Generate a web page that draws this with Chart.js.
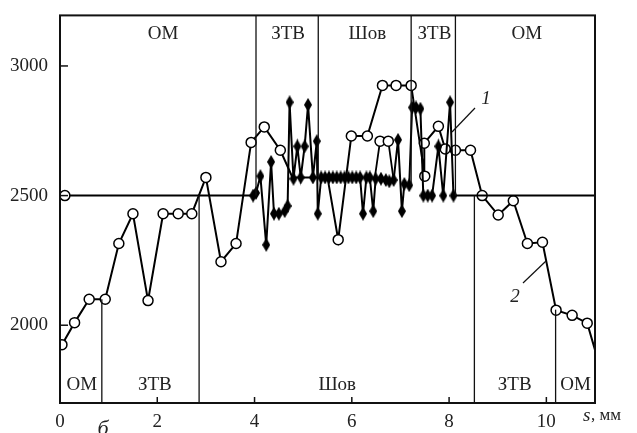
<!DOCTYPE html>
<html>
<head>
<meta charset="utf-8">
<script src="https://cdn.jsdelivr.net/npm/chart.js@4/dist/chart.umd.min.js"></script>
<style>
  html, body { margin: 0; padding: 0; background: #fff; }
  #wrap { width: 637px; height: 433px; }
</style>
</head>
<body>
<div id="wrap"><canvas id="myChart"></canvas></div>
<script>
// curve 1 (black diamonds)
const s1X = [0.1, 3.97, 4.03, 4.12, 4.24, 4.34, 4.40, 4.50, 4.62, 4.68, 4.72, 4.80, 4.88, 4.95, 5.03, 5.10, 5.20, 5.28, 5.30, 5.37,
             5.45, 5.53, 5.61, 5.69, 5.77, 5.85, 5.93, 6.01, 6.09, 6.17, 6.23, 6.30, 6.37, 6.44, 6.49, 6.60, 6.70, 6.77, 6.86,
             6.95, 7.03, 7.08, 7.18, 7.24, 7.32, 7.41, 7.47, 7.56, 7.65, 7.78, 7.88, 8.02, 8.09, 11.0];
const s1Y = [2500, 2500, 2510, 2575, 2310, 2630, 2430, 2430, 2440, 2460, 2860, 2565, 2690, 2570, 2690, 2850, 2570, 2710, 2430, 2570,
             2570, 2570, 2570, 2570, 2570, 2570, 2570, 2570, 2570, 2570, 2430, 2570, 2570, 2440, 2565, 2565, 2560, 2555, 2560,
             2715, 2440, 2545, 2540, 2840, 2840, 2835, 2500, 2500, 2500, 2690, 2500, 2860, 2500, 2500];

// curve 2 (open circles); points listed in s2Hidden are hidden inside curve 1
const s2X = [0.04, 0.3, 0.6, 0.93, 1.21, 1.5, 1.81, 2.12, 2.43, 2.71, 3.0, 3.31, 3.62, 3.93, 4.2, 4.53, 4.78, 5.2, 5.5,
             5.72, 5.99, 6.32, 6.63, 6.91, 7.22, 7.5, 7.49, 7.78, 7.92, 8.13, 8.44, 8.68, 9.01, 9.32, 9.61, 9.92,
             10.2, 10.53, 10.84, 11.0];
const s2Y = [1925, 2010, 2100, 2100, 2315, 2430, 2095, 2430, 2430, 2430, 2570, 2245, 2315, 2705, 2765, 2675, 2570, 2570, 2570,
             2330, 2730, 2730, 2925, 2925, 2925, 2575, 2702, 2767, 2680, 2675, 2675, 2500, 2425, 2480, 2315, 2320,
             2058, 2038, 2008, 1905];
const s2Hidden = [16, 17, 18, 39];

// small detour of curve 2 near s = 6.6
const s2bX = [6.47, 6.58, 6.75, 6.86];
const s2bY = [2565, 2710, 2710, 2560];

const xTickVals = [0, 2, 4, 6, 8, 10];
const yTickVals = [2000, 2500, 3000];

// zone borders: [s, end value]
const topBorders = [[4.03, 2500], [5.31, 2570], [7.22, 2540], [8.13, 2500]];
const bottomBorders = [[0.86, 2100], [2.86, 2500], [8.52, 2500], [10.19, 2060]];
const topZones = [['ОМ', 2.12], ['ЗТВ', 4.69], ['Шов', 6.32], ['ЗТВ', 7.7], ['ОМ', 9.6]];
const bottomZones = [['ОМ', 0.45], ['ЗТВ', 1.95], ['Шов', 5.7], ['ЗТВ', 9.35], ['ОМ', 10.6]];

const serif = "'Liberation Serif', 'DejaVu Serif', serif";

// elongated diamond marker
const diamond = document.createElement('canvas');
diamond.width = 8; diamond.height = 14;
(function () {
    const c = diamond.getContext('2d');
    c.fillStyle = '#000';
    c.beginPath();
    c.moveTo(4, 0); c.lineTo(8, 7); c.lineTo(4, 14); c.lineTo(0, 7);
    c.closePath(); c.fill();
})();

const pts = (xs, ys) => xs.map((x, i) => ({ x: x, y: ys[i] }));

const decor = {
    id: 'decor',
    afterDatasetsDraw(chart) {
        const c = chart.ctx, a = chart.chartArea;
        const xs = chart.scales.x, ys = chart.scales.y;
        c.save();
        c.strokeStyle = '#111';
        c.lineWidth = 1.3;
        topBorders.forEach(b => {
            const px = xs.getPixelForValue(b[0]);
            c.beginPath(); c.moveTo(px, a.top); c.lineTo(px, ys.getPixelForValue(b[1])); c.stroke();
        });
        bottomBorders.forEach(b => {
            const px = xs.getPixelForValue(b[0]);
            c.beginPath(); c.moveTo(px, a.bottom); c.lineTo(px, ys.getPixelForValue(b[1])); c.stroke();
        });
        // frame
        c.lineWidth = 2;
        c.strokeRect(a.left, a.top, a.right - a.left, a.bottom - a.top);
        // inside ticks
        c.lineWidth = 1.5;
        xTickVals.forEach(v => {
            const px = xs.getPixelForValue(v);
            c.beginPath(); c.moveTo(px, a.bottom); c.lineTo(px, a.bottom - 6); c.stroke();
        });
        yTickVals.forEach(v => {
            const py = ys.getPixelForValue(v);
            c.beginPath(); c.moveTo(a.left, py); c.lineTo(a.left + 8, py); c.stroke();
        });
        // zone names
        c.fillStyle = '#222';
        c.font = '19px ' + serif;
        c.textAlign = 'center';
        c.textBaseline = 'middle';
        topZones.forEach(z => c.fillText(z[0], xs.getPixelForValue(z[1]), a.top + 19));
        bottomZones.forEach(z => c.fillText(z[0], xs.getPixelForValue(z[1]), a.bottom - 18));
        // curve numbers
        c.lineWidth = 1.2;
        c.beginPath(); c.moveTo(452, 132); c.lineTo(475, 108); c.stroke();
        c.beginPath(); c.moveTo(523, 283); c.lineTo(546, 261); c.stroke();
        c.font = 'italic 19px ' + serif;
        c.fillText('1', 486, 99);
        c.fillText('2', 515, 297);
        c.font = 'italic 22px ' + serif;
        c.fillText('б', 103, 429);
        // axis name
        c.textAlign = 'left';
        c.font = 'italic 19px ' + serif;
        c.fillText('s', 583, 416);
        c.font = '17px ' + serif;
        c.fillText(', мм', 591, 416);
        c.restore();
    }
};

const ctx = document.getElementById('myChart');

const chart = new Chart(ctx, {
    type: 'scatter',
    data: {
        datasets: [
            {
                label: '1',
                data: pts(s1X, s1Y),
                showLine: true,
                borderColor: '#000',
                borderWidth: 2,
                tension: 0,
                pointStyle: c => (c.dataIndex === 0 || c.dataIndex === s1X.length - 1) ? 'circle' : diamond,
                pointRadius: c => c.dataIndex === 0 ? 5 : (c.dataIndex === s1X.length - 1 ? 0 : 3),
                pointBackgroundColor: '#fff',
                pointBorderColor: '#000',
                pointBorderWidth: 1.5
            },
            {
                label: '2',
                data: pts(s2X, s2Y),
                showLine: true,
                borderColor: '#000',
                borderWidth: 2,
                tension: 0,
                pointStyle: 'circle',
                pointRadius: c => s2Hidden.includes(c.dataIndex) ? 0 : 5,
                pointBackgroundColor: '#fff',
                pointBorderColor: '#000',
                pointBorderWidth: 1.5
            },
            {
                label: '2b',
                data: pts(s2bX, s2bY),
                showLine: true,
                borderColor: '#000',
                borderWidth: 1.8,
                tension: 0,
                pointStyle: 'circle',
                pointRadius: c => (c.dataIndex === 0 || c.dataIndex === s2bX.length - 1) ? 0 : 5,
                pointBackgroundColor: '#fff',
                pointBorderColor: '#000',
                pointBorderWidth: 1.5
            }
        ]
    },
    options: {
        responsive: true,
        maintainAspectRatio: false,
        animation: false,
        layout: { padding: { top: 12, right: 42, left: 0, bottom: 0 } },
        plugins: {
            legend: { display: false },
            tooltip: { enabled: false }
        },
        scales: {
            x: {
                type: 'linear',
                min: 0,
                max: 11,
                afterBuildTicks: s => { s.ticks = xTickVals.map(v => ({ value: v })); },
                afterFit: s => { s.height = 30; },
                grid: { display: false },
                border: { display: false },
                ticks: { color: '#222', font: { family: serif, size: 19 }, padding: 0, callback: v => String(v) }
            },
            y: {
                min: 1700,
                max: 3195,
                afterBuildTicks: s => { s.ticks = yTickVals.map(v => ({ value: v })); },
                afterFit: s => { s.width = 60; },
                grid: { display: false },
                border: { display: false },
                ticks: { color: '#222', font: { family: serif, size: 19 }, padding: 4, callback: v => String(v) }
            }
        }
    },
    plugins: [decor]
});
</script>
</body>
</html>
